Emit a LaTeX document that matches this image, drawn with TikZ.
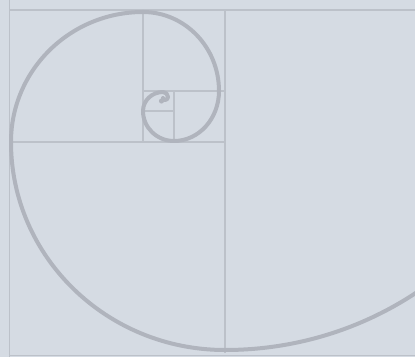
\documentclass[tikz,border=0pt]{standalone}
\definecolor{bg}{RGB}{213,219,227}
\definecolor{gridc}{RGB}{188,193,201}
\definecolor{spiralc}{RGB}{176,180,189}
\begin{document}
\begin{tikzpicture}[x=1pt,y=1pt,
  gridline/.style={draw=gridc, line width=1.5pt},
  spiral/.style={draw=spiralc, line width=4pt, line cap=round, line join=round}]
\useasboundingbox (0,0) rectangle (415,357);
\fill[bg] (0,0) rectangle (415,357);
\clip (0,0) rectangle (415,357);
% squares
\draw[gridline] (9.5,0) -- (9.5,357);
\draw[gridline, line width=2.2pt] (9.5,347) -- (415,347);
\draw[gridline, line width=0.8pt] (9.5,1.2) -- (415,1.2);
\draw[gridline] (225,347) -- (225,4);
\draw[gridline] (9.5,215) -- (225,215);
\draw[gridline] (143,215) -- (143,347);
\draw[gridline] (143,266) -- (225,266);
\draw[gridline] (174,215) -- (174,266);
\draw[gridline] (143,246) -- (174,246);
% spiral
\draw[spiral] (569,347)
  arc[start angle=0, end angle=-90, x radius=344, y radius=340]
  arc[start angle=270, end angle=180, x radius=214, y radius=208]
  arc[start angle=180, end angle=90, x radius=132, y radius=130]
  arc[start angle=90, end angle=0, x radius=76, y radius=79]
  arc[start angle=0, end angle=-90, x radius=45, y radius=50]
  arc[start angle=270, end angle=180, x radius=31, y radius=30]
  arc[start angle=180, end angle=90, x radius=20, y radius=19]
  arc[start angle=90, end angle=0, radius=5]
  arc[start angle=0, end angle=-90, radius=3]
  arc[start angle=270, end angle=180, radius=2];
\fill[spiralc] (161.5,256) circle[radius=2.6];
\end{tikzpicture}
\end{document}
